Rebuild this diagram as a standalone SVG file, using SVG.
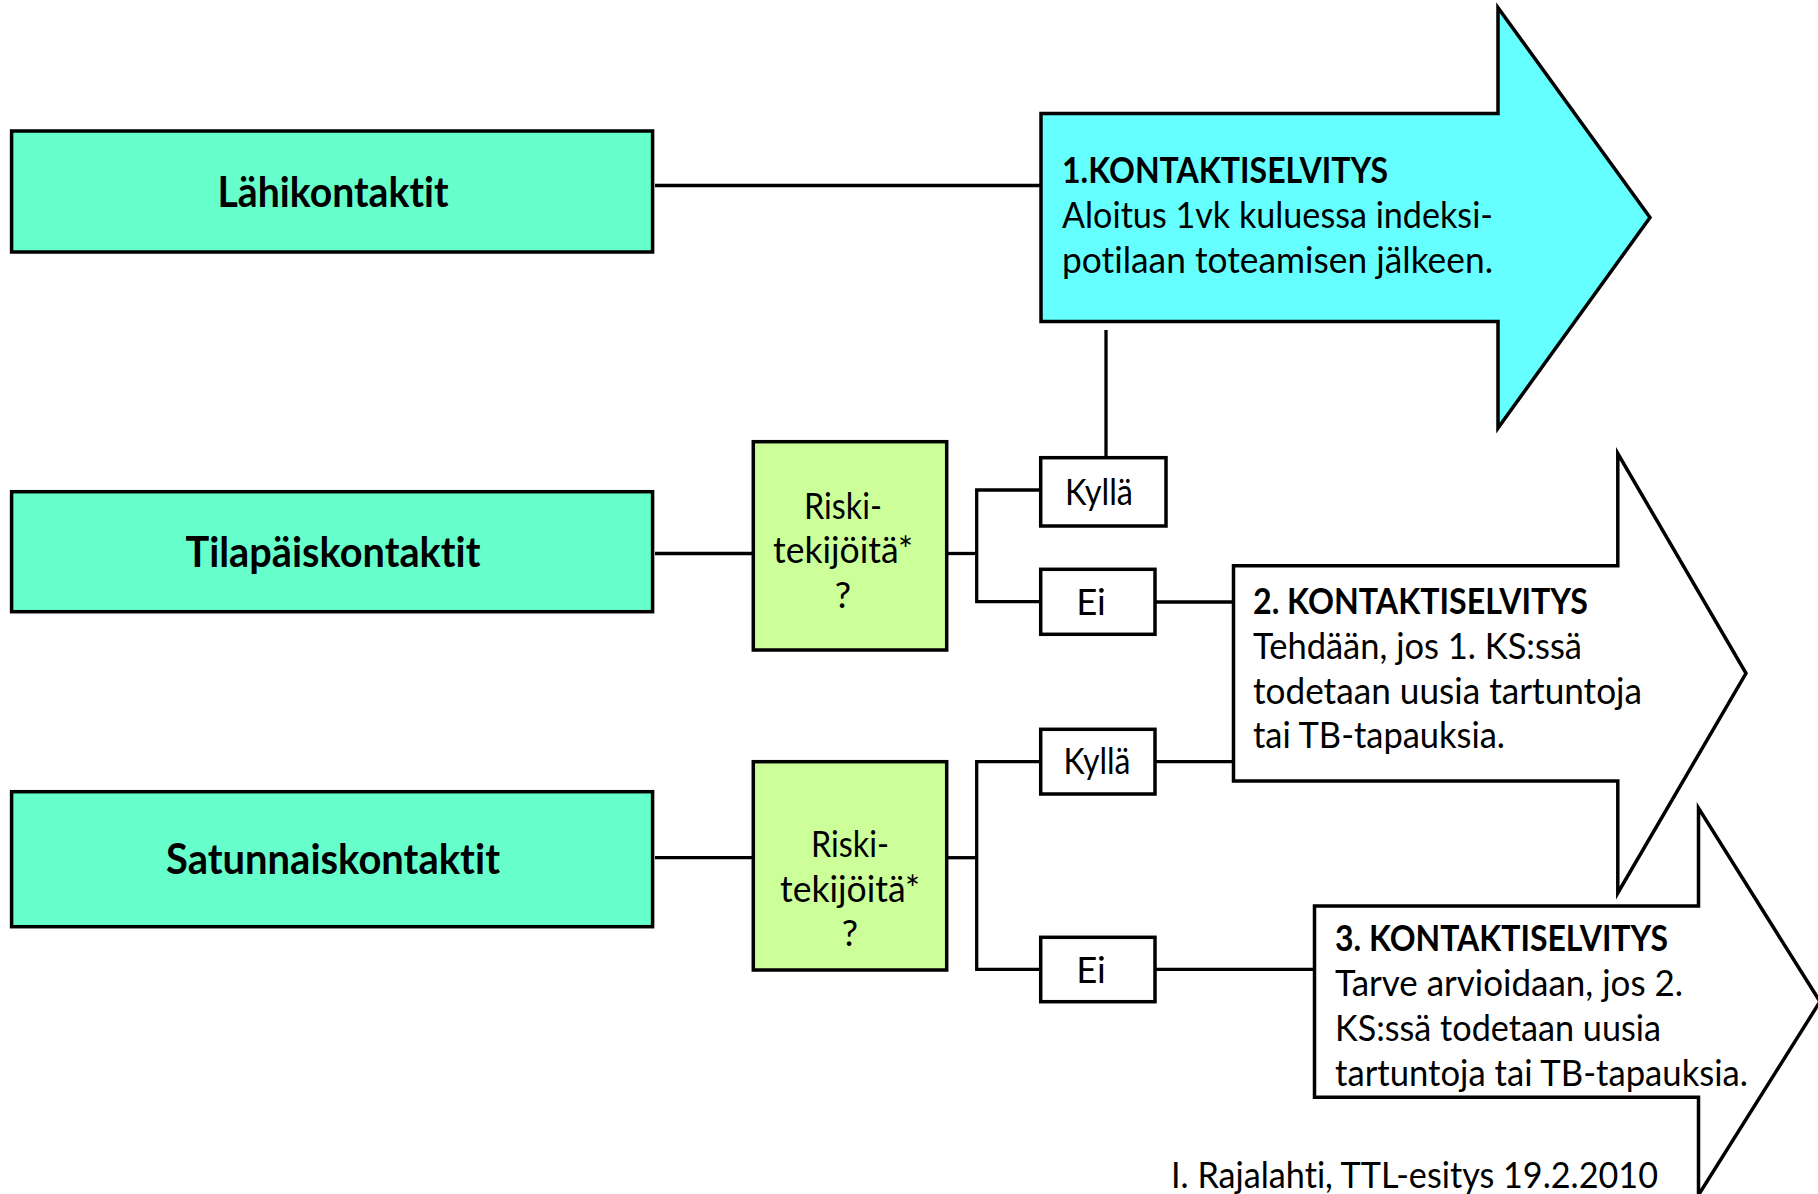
<svg xmlns="http://www.w3.org/2000/svg" width="1818" height="1194" viewBox="0 0 1818 1194">
<style>
.main{fill:#66FFCC;stroke:#000;stroke-width:3.5}
.risk{fill:#CCFF99;stroke:#000;stroke-width:3.5}
.opt{fill:#FFFFFF;stroke:#000;stroke-width:3.5}
.arr{stroke:#000;stroke-width:3.5;stroke-linejoin:miter}
.ln{fill:none;stroke:#000;stroke-width:3.3}
text{font-family:Lato,"Open Sans","Liberation Sans",sans-serif;fill:#000;font-variant-ligatures:none;font-feature-settings:"liga" 0,"clig" 0}
.lbl{font-size:42px;font-weight:bold;text-anchor:middle}
.t{font-size:36.5px}
.tb{font-size:37px;font-weight:bold}
.c{text-anchor:middle}
</style>
<rect width="1818" height="1194" fill="#FFFFFF"/>
<g id="connectors">
<line class="ln" x1="655" y1="185.5" x2="1041" y2="185.5"/>
<line class="ln" x1="1106" y1="330" x2="1106" y2="458"/>
<line class="ln" x1="655" y1="553.5" x2="753" y2="553.5"/>
<polyline class="ln" points="1041,490 976.7,490 976.7,601.7 1041,601.7"/>
<line class="ln" x1="947" y1="553.5" x2="976.7" y2="553.5"/>
<line class="ln" x1="1155" y1="602" x2="1233.5" y2="602"/>
<line class="ln" x1="655" y1="857.7" x2="753" y2="857.7"/>
<polyline class="ln" points="1041,761.7 976.7,761.7 976.7,969.3 1041,969.3"/>
<line class="ln" x1="947" y1="857.7" x2="976.7" y2="857.7"/>
<line class="ln" x1="1155" y1="761.7" x2="1233.5" y2="761.7"/>
<line class="ln" x1="1155" y1="969.3" x2="1314.5" y2="969.3"/>
</g>
<g id="lahikontaktit">
<rect class="main" x="11.6" y="131" width="641" height="121"/>
<text class="lbl" x="333" y="207" textLength="231" lengthAdjust="spacingAndGlyphs">Lähikontaktit</text>
</g>
<g id="tilapaiskontaktit">
<rect class="main" x="11.6" y="491.7" width="641" height="120"/>
<text class="lbl" x="333" y="567" textLength="295" lengthAdjust="spacingAndGlyphs">Tilapäiskontaktit</text>
</g>
<g id="satunnaiskontaktit">
<rect class="main" x="11.6" y="791.7" width="641" height="135"/>
<text class="lbl" x="333" y="874" textLength="334" lengthAdjust="spacingAndGlyphs">Satunnaiskontaktit</text>
</g>
<g id="riski1">
<rect class="risk" x="753.3" y="441.7" width="193.4" height="208.3"/>
<text class="t c" x="843" y="519" textLength="78" lengthAdjust="spacingAndGlyphs">Riski-</text>
<text class="t c" x="843" y="563" textLength="140" lengthAdjust="spacingAndGlyphs">tekijöitä*</text>
<text class="t c" x="843" y="608">?</text>
</g>
<g id="riski2">
<rect class="risk" x="753.3" y="761.7" width="193.4" height="208.3"/>
<text class="t c" x="850" y="857" textLength="78" lengthAdjust="spacingAndGlyphs">Riski-</text>
<text class="t c" x="850" y="902" textLength="140" lengthAdjust="spacingAndGlyphs">tekijöitä*</text>
<text class="t c" x="850" y="946">?</text>
</g>
<g id="kylla1">
<rect class="opt" x="1040.7" y="457.7" width="125.3" height="68.3"/>
<text class="t c" x="1099" y="505" textLength="68" lengthAdjust="spacingAndGlyphs">Kyllä</text>
</g>
<g id="ei1">
<rect class="opt" x="1040.7" y="569.3" width="114.3" height="65"/>
<text class="t c" x="1091" y="615">Ei</text>
</g>
<g id="kylla2">
<rect class="opt" x="1040.7" y="729.3" width="114.3" height="64.7"/>
<text class="t c" x="1097" y="774" textLength="67" lengthAdjust="spacingAndGlyphs">Kyllä</text>
</g>
<g id="ei2">
<rect class="opt" x="1040.7" y="937.3" width="114.3" height="64.4"/>
<text class="t c" x="1091" y="982.7">Ei</text>
</g>
<g id="kontaktiselvitys1">
<polygon class="arr" fill="#66FFFF" points="1041,113.5 1498,113.5 1498,7.6 1650,217.5 1498,428 1498,321.5 1041,321.5"/>
<text class="tb" x="1062" y="183" textLength="326" lengthAdjust="spacingAndGlyphs">1.KONTAKTISELVITYS</text>
<text class="t" x="1062" y="228" textLength="431" lengthAdjust="spacingAndGlyphs">Aloitus 1vk kuluessa indeksi-</text>
<text class="t" x="1062" y="273" textLength="431" lengthAdjust="spacingAndGlyphs">potilaan toteamisen jälkeen.</text>
</g>
<g id="kontaktiselvitys2">
<polygon class="arr" fill="#FFFFFF" points="1233.5,565.7 1617.8,565.7 1617.8,453.5 1746,673.3 1617.8,893 1617.8,781 1233.5,781"/>
<text class="tb" x="1253" y="614" textLength="335" lengthAdjust="spacingAndGlyphs">2. KONTAKTISELVITYS</text>
<text class="t" x="1253" y="659" textLength="329" lengthAdjust="spacingAndGlyphs">Tehdään, jos 1. KS:ssä</text>
<text class="t" x="1253" y="704" textLength="389" lengthAdjust="spacingAndGlyphs">todetaan uusia tartuntoja</text>
<text class="t" x="1253" y="748" textLength="252" lengthAdjust="spacingAndGlyphs">tai TB-tapauksia.</text>
</g>
<g id="kontaktiselvitys3">
<polygon class="arr" fill="#FFFFFF" points="1314.5,906 1698.5,906 1698.5,808 1820,1001.6 1698.5,1195 1698.5,1097.3 1314.5,1097.3"/>
<text class="tb" x="1335" y="951" textLength="333" lengthAdjust="spacingAndGlyphs">3. KONTAKTISELVITYS</text>
<text class="t" x="1335" y="996" textLength="348" lengthAdjust="spacingAndGlyphs">Tarve arvioidaan, jos 2.</text>
<text class="t" x="1335" y="1041" textLength="326" lengthAdjust="spacingAndGlyphs">KS:ssä todetaan uusia</text>
<text class="t" x="1335" y="1086" textLength="413" lengthAdjust="spacingAndGlyphs">tartuntoja tai TB-tapauksia.</text>
</g>
<g id="footer">
<text class="t" x="1171" y="1188" textLength="487" lengthAdjust="spacingAndGlyphs">I. Rajalahti, TTL-esitys 19.2.2010</text>
</g>
</svg>
